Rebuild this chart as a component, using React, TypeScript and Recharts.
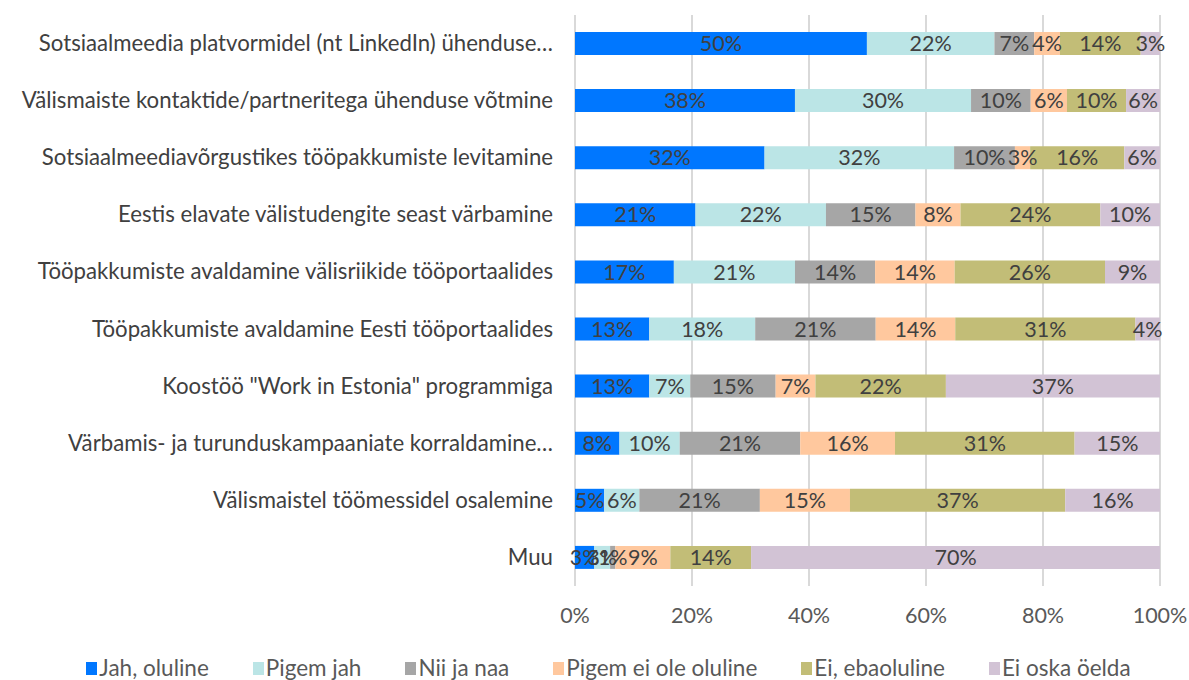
import React from "react";
import { BarChart, Bar, XAxis, YAxis, CartesianGrid, Legend, LabelList } from "recharts";

const categories = [
  "Sotsiaalmeedia platvormidel (nt LinkedIn) ühenduse…",
  "Välismaiste kontaktide/partneritega ühenduse võtmine",
  "Sotsiaalmeediavõrgustikes tööpakkumiste levitamine",
  "Eestis elavate välistudengite seast värbamine",
  "Tööpakkumiste avaldamine välisriikide tööportaalides",
  "Tööpakkumiste avaldamine Eesti tööportaalides",
  "Koostöö \"Work in Estonia\" programmiga",
  "Värbamis- ja turunduskampaaniate korraldamine…",
  "Välismaistel töömessidel osalemine",
  "Muu",
];

const jahOluline = [49.9, 37.6, 32.4, 20.6, 16.9, 12.7, 12.7, 7.6, 5.0, 3.3];
const pigemJah = [21.8, 30.1, 32.4, 22.3, 20.7, 18.1, 7.0, 10.3, 6.0, 2.7];
const niiJaNaa = [6.8, 10.2, 10.4, 15.3, 13.7, 20.6, 14.6, 20.6, 20.6, 0.9];
const pigemEiOle = [4.4, 6.2, 2.6, 7.7, 13.6, 13.6, 6.8, 16.2, 15.4, 9.4];
const eiEbaoluline = [13.8, 10.1, 16.1, 23.9, 25.7, 30.8, 22.3, 30.7, 36.8, 13.8];
const eiOska = [3.3, 5.8, 6.1, 10.2, 9.4, 4.2, 36.6, 14.6, 16.2, 69.9];

const xTicks = [0, 20, 40, 60, 80, 100];

const seriesNames = ["Jah, oluline", "Pigem jah", "Nii ja naa", "Pigem ei ole oluline", "Ei, ebaoluline", "Ei oska öelda"];
const seriesColors = ["#0077FF", "#BBE5E6", "#A6A6A6", "#FFC89E", "#C2BD77", "#D2C3D5"];
const seriesValues = [jahOluline, pigemJah, niiJaNaa, pigemEiOle, eiEbaoluline, eiOska];
const keys = ["s0", "s1", "s2", "s3", "s4", "s5"];

const data = categories.map((c, i) => {
  const row: any = { name: c };
  seriesValues.forEach((arr, j) => (row[keys[j]] = arr[i]));
  return row;
});

const FONT = "Lato, 'Noto Sans', sans-serif";

const YTick = (props: any) => {
  const { y, payload } = props;
  return (
    <text x={553} y={y} dy={7.5} textAnchor="end" fill="#404040" fontSize={22.2} fontFamily={FONT}>
      {payload.value}
    </text>
  );
};

const LegendContent = () => (
  <div style={{ display: "flex", justifyContent: "center", gap: 44, paddingLeft: 28, fontFamily: FONT, fontSize: 22.5, color: "#595959", lineHeight: "26px" }}>
    {seriesNames.map((n, i) => (
      <div key={n} style={{ display: "flex", alignItems: "center" }}>
        <span style={{ display: "inline-block", width: 11, height: 13, background: seriesColors[i], marginRight: 2 }} />
        <span>{n}</span>
      </div>
    ))}
  </div>
);

export default function App() {
  return (
    <div style={{ position: "absolute", left: 0, top: 0, background: "#fff" }}>
      <BarChart
        width={1189}
        height={680}
        data={data}
        layout="vertical"
        margin={{ top: 15, right: 29, left: 0, bottom: 28 }}
        barSize={23}
      >
        <CartesianGrid horizontal={false} vertical={true} stroke="#D9D9D9" strokeWidth={2} />
        <XAxis
          type="number"
          domain={[0, 100]}
          ticks={xTicks}
          tickFormatter={(v: number) => `${v}%`}
          axisLine={false}
          tickLine={false}
          tickMargin={16}
          height={40}
          tick={{ fill: "#595959", fontSize: 21.5, fontFamily: FONT }}
          interval={0}
        />
        <YAxis
          type="category"
          dataKey="name"
          width={575}
          axisLine={false}
          tickLine={false}
          tick={<YTick />}
          interval={0}
        />
        <Legend content={<LegendContent />} wrapperStyle={{ position: "absolute", top: 655, left: 0, width: 1189, height: 26 }} />
        {keys.map((k, j) => (
          <Bar key={k} dataKey={k} name={seriesNames[j]} stackId="a" fill={seriesColors[j]} isAnimationActive={false}>
            <LabelList
              dataKey={k}
              position="center"
              formatter={(v: any) => `${Math.round(Number(v))}%`}
              fill="#404040"
              fontSize={21.5}
              fontFamily={FONT}
            />
          </Bar>
        ))}
      </BarChart>
    </div>
  );
}
